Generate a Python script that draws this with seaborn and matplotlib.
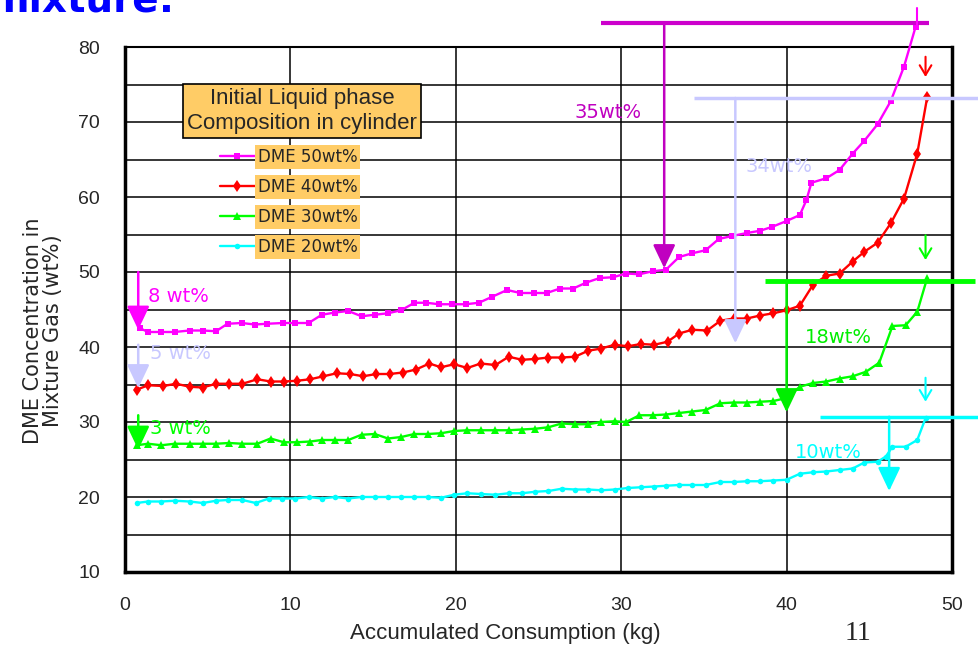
import matplotlib
matplotlib.use("Agg")
import matplotlib.pyplot as plt
import seaborn as sns

# ---- data ----
x_50 = [0.9, 1.4, 2.2, 3.0, 3.9, 4.7, 5.5, 6.2, 7.05, 7.85, 8.6, 9.55, 10.3, 11.1, 11.9, 12.7,
        13.5, 14.3, 15.1, 15.9, 16.7, 17.5, 18.2, 19.0, 19.8, 20.6, 21.4, 22.2, 23.1, 23.9, 24.7,
        25.5, 26.3, 27.1, 27.9, 28.7, 29.5, 30.3, 31.1, 31.9, 32.7, 33.5, 34.3, 35.1, 35.9, 36.7,
        37.6, 38.4, 39.1, 40.0, 40.8, 41.2, 41.5, 42.4, 43.2, 44.0, 44.7, 45.5, 46.3, 47.1, 47.8]
y_50 = [42.5, 42.0, 42.0, 42.0, 42.2, 42.2, 42.1, 43.1, 43.2, 43.0, 43.1, 43.2, 43.2, 43.2, 44.3, 44.6,
        44.8, 44.1, 44.3, 44.5, 44.9, 45.9, 45.9, 45.7, 45.7, 45.7, 45.9, 46.7, 47.6, 47.2, 47.2,
        47.2, 47.8, 47.8, 48.6, 49.2, 49.3, 49.8, 49.7, 50.1, 50.3, 52.0, 52.5, 52.9, 54.4, 54.8,
        55.2, 55.5, 56.0, 56.8, 57.6, 59.6, 61.9, 62.5, 63.6, 65.8, 67.5, 69.7, 72.8, 77.4, 82.7]

x_40 = [0.7, 1.4, 2.3, 3.1, 3.9, 4.7, 5.5, 6.3, 7.1, 8.0, 8.8, 9.6, 10.4, 11.2, 12.0, 12.8,
        13.6, 14.4, 15.2, 16.0, 16.8, 17.6, 18.4, 19.1, 19.9, 20.7, 21.5, 22.4, 23.2, 24.0, 24.8,
        25.6, 26.4, 27.2, 28.0, 28.8, 29.6, 30.4, 31.2, 32.0, 32.8, 33.5, 34.3, 35.2, 36.0, 36.8,
        37.6, 38.4, 39.2, 40.0, 40.8, 41.6, 42.4, 43.2, 44.0, 44.7, 45.5, 46.3, 47.1, 47.9, 48.5]
y_40 = [34.3, 34.9, 34.8, 35.1, 34.7, 34.6, 35.1, 35.1, 35.1, 35.7, 35.4, 35.4, 35.5, 35.7, 36.1, 36.5,
        36.4, 36.1, 36.4, 36.4, 36.6, 37.0, 37.8, 37.3, 37.7, 37.2, 37.8, 37.6, 38.7, 38.3, 38.4,
        38.6, 38.6, 38.7, 39.5, 39.8, 40.3, 40.1, 40.4, 40.3, 40.7, 41.8, 42.3, 42.2, 43.5, 43.8,
        43.8, 44.2, 44.5, 44.9, 45.5, 48.3, 49.5, 49.8, 51.4, 52.7, 53.9, 56.5, 59.8, 65.8, 73.3]

x_30 = [0.7, 1.4, 2.2, 3.0, 3.9, 4.7, 5.5, 6.3, 7.1, 8.0, 8.8, 9.6, 10.4, 11.2, 11.9, 12.7,
        13.5, 14.3, 15.1, 15.9, 16.7, 17.5, 18.3, 19.1, 19.9, 20.7, 21.5, 22.4, 23.2, 24.0, 24.8,
        25.6, 26.4, 27.2, 28.0, 28.8, 29.6, 30.3, 31.1, 31.9, 32.7, 33.5, 34.3, 35.1, 36.0, 36.8,
        37.6, 38.4, 39.2, 40.0, 40.8, 41.6, 42.4, 43.2, 44.0, 44.8, 45.6, 46.4, 47.2, 47.9, 48.5]
y_30 = [26.9, 27.1, 26.9, 27.1, 27.1, 27.1, 27.1, 27.2, 27.1, 27.1, 27.8, 27.3, 27.3, 27.4, 27.6, 27.6,
        27.6, 28.3, 28.4, 27.8, 28.0, 28.4, 28.4, 28.5, 28.8, 28.9, 28.9, 28.9, 28.9, 29.0, 29.1,
        29.3, 29.8, 29.7, 29.7, 30.0, 30.1, 30.0, 30.9, 30.9, 31.0, 31.2, 31.4, 31.6, 32.5, 32.6,
        32.6, 32.7, 32.8, 33.2, 34.7, 35.2, 35.4, 35.8, 36.1, 36.7, 37.9, 42.8, 42.9, 44.7, 49.2]

x_20 = [0.7, 1.4, 2.2, 3.0, 3.9, 4.7, 5.5, 6.2, 7.1, 7.9, 8.7, 9.5, 10.3, 11.1, 11.9, 12.7,
        13.5, 14.3, 15.1, 15.9, 16.7, 17.5, 18.3, 19.1, 19.9, 20.7, 21.5, 22.4, 23.2, 24.0, 24.8,
        25.6, 26.4, 27.2, 28.0, 28.8, 29.6, 30.4, 31.2, 32.0, 32.7, 33.5, 34.3, 35.1, 36.0, 36.8,
        37.6, 38.4, 39.2, 40.0, 40.8, 41.6, 42.4, 43.2, 44.0, 44.7, 45.5, 46.0, 46.4, 47.2, 47.9, 48.4]
y_20 = [19.2, 19.4, 19.4, 19.5, 19.4, 19.2, 19.5, 19.6, 19.6, 19.2, 19.8, 19.8, 19.8, 20.0, 19.8, 20.0,
        19.8, 20.0, 20.0, 20.0, 20.0, 20.0, 20.0, 19.9, 20.3, 20.5, 20.4, 20.3, 20.5, 20.5, 20.7,
        20.8, 21.1, 21.0, 21.0, 20.9, 21.0, 21.2, 21.3, 21.4, 21.5, 21.6, 21.6, 21.6, 22.0, 22.0,
        22.1, 22.1, 22.2, 22.3, 23.1, 23.3, 23.4, 23.6, 23.8, 24.6, 24.7, 25.4, 26.7, 26.7, 27.6, 30.5]

series_labels = ["DME 50wt%", "DME 40wt%", "DME 30wt%", "DME 20wt%"]
series_x = [x_50, x_40, x_30, x_20]
series_y = [y_50, y_40, y_30, y_20]

# drop annotations: label, x of arrow, start y, tip y, text x, text y
drop_labels = ["8 wt%", "5 wt%", "3 wt%", "35wt%", "34wt%", "18wt%", "10wt%"]
drop_x = [0.8, 0.8, 0.8, 32.6, 36.9, 40.0, 46.2]
drop_y0 = [50.0, 40.3, 30.9, 83.2, 73.2, 48.8, 30.7]
drop_y1 = [42.3, 34.5, 26.3, 50.5, 40.5, 31.3, 20.8]
drop_tx = [1.4, 1.5, 1.5, 27.2, 37.5, 41.1, 40.5]
drop_ty = [46.8, 39.1, 29.2, 71.3, 64.1, 41.3, 26.0]
# level bars on the right: x start, x end, y
bar_x0 = [28.8, 34.4, 38.7, 42.0]
bar_x1 = [48.6, 51.6, 51.4, 51.6]
bar_y = [83.2, 73.2, 48.8, 30.7]
# small end-point arrows
end_x = [48.4, 48.4, 48.4]
end_y0 = [78.7, 54.9, 35.9]
end_y1 = [76.0, 51.6, 32.7]

# ---- styles ----
line_colors = ["#FF00FF", "#FF0000", "#00FF00", "#00FFFF"]
line_markers = ["s", "d", "^", "o"]
marker_sizes = [4.5, 6, 5.5, 4]
drop_colors = ["#FF00FF", "#C8C8FF", "#00FF00", "#C000C0", "#C8C8FF", "#00EE00", "#00FFFF"]
bar_colors = ["#CC00CC", "#C8C8FF", "#00FF00", "#00FFFF"]
bar_widths = [3, 2.5, 3.5, 2.5]
end_colors = ["#FF0000", "#00FF00", "#00FFFF"]
orange = "#FFCC66"
narrow = ["Liberation Sans Narrow", "Liberation Sans"]

sns.set_style("white")
plt.rcParams["font.family"] = ["DejaVu Sans"]

fig = plt.figure(figsize=(9.79, 6.49), dpi=100)
ax = fig.add_axes([125 / 979, 1 - 572 / 649, (952 - 125) / 979, (572 - 47) / 649])

for xs, ys, lab, c, m, ms in zip(series_x, series_y, series_labels, line_colors, line_markers, marker_sizes):
    sns.lineplot(x=xs, y=ys, ax=ax, color=c, marker=m, markersize=ms, markeredgewidth=0,
                 linewidth=1.7, label=lab, sort=False, estimator=None, clip_on=False, zorder=4)

ax.set_xlim(0, 50)
ax.set_ylim(10, 80)
ax.set_xticks(range(0, 51, 10))
ax.set_yticks(range(10, 81, 10))
ax.set_yticks(range(15, 80, 10), minor=True)
ax.grid(True, which="major", axis="both", color="black", linewidth=1.1)
ax.grid(True, which="minor", axis="y", color="black", linewidth=1.1)
ax.tick_params(axis="both", which="major", direction="in", length=5, width=2,
               labelsize=14, pad=18)
ax.tick_params(axis="y", which="minor", direction="in", length=5, width=2)
for t in ax.get_xticklabels() + ax.get_yticklabels():
    t.set_family(narrow)
for side, lw in [("left", 2.5), ("bottom", 2.5), ("right", 2.5), ("top", 1.5)]:
    ax.spines[side].set_visible(True)
    ax.spines[side].set_color("black")
    ax.spines[side].set_linewidth(lw)

ax.set_xlabel("Accumulated Consumption (kg)", fontsize=16, family=narrow)
ax.xaxis.set_label_coords(0.46, -0.097)
ax.set_ylabel("DME Concentration in\nMixture Gas (wt%)", fontsize=15, linespacing=1.0)
ax.yaxis.set_label_coords(-0.075, 0.46)

# drop arrows with labels
for lab, x, y0, y1, tx, ty, c in zip(drop_labels, drop_x, drop_y0, drop_y1, drop_tx, drop_ty, drop_colors):
    ax.annotate("", xy=(x, y1), xytext=(x, y0), annotation_clip=False,
                arrowprops=dict(arrowstyle="-|>,head_length=0.8,head_width=0.38", color=c,
                                lw=1.8, mutation_scale=18, shrinkA=0, shrinkB=0), zorder=5)
    ax.text(tx, ty, lab, color=c, fontsize=14, ha="left", va="center", zorder=5)

for x0, x1, y, c, lw in zip(bar_x0, bar_x1, bar_y, bar_colors, bar_widths):
    ax.plot([x0, x1], [y, y], color=c, linewidth=lw, clip_on=False, solid_capstyle="butt", zorder=5)

for x, y0, y1, c in zip(end_x, end_y0, end_y1, end_colors):
    ax.annotate("", xy=(x, y1), xytext=(x, y0), annotation_clip=False,
                arrowprops=dict(arrowstyle="->,head_length=0.5,head_width=0.3", color=c,
                                lw=1.5, mutation_scale=14, shrinkA=0, shrinkB=0), zorder=5)
ax.plot([47.9, 47.9], [82.9, 85.2], color="#FF00FF", linewidth=1.5, clip_on=False, zorder=5)

# legend: title box + entries on orange patches
fig.text(302 / 979, 1 - 111 / 649, "Initial Liquid phase\nComposition in cylinder",
         ha="center", va="center", fontsize=16, linespacing=1.25, family=narrow,
         bbox=dict(boxstyle="square,pad=0.2", facecolor=orange, edgecolor="black", linewidth=1.2))
leg = ax.legend(loc="upper left", bbox_to_anchor=(220 / 979, 1 - 148 / 649),
                bbox_transform=fig.transFigure, frameon=False, fontsize=12,
                handlelength=2.1, handletextpad=0.15, labelspacing=0.72,
                borderpad=0, borderaxespad=0)
for t in leg.get_texts():
    t.set_bbox(dict(facecolor=orange, edgecolor="none", pad=2))

# slide header remnant and page number
fig.text(-0.012, 1 - 12 / 649, "mixture:", color="#0000FF", fontsize=28,
         fontweight="bold", va="baseline", ha="left")
fig.text(858 / 979, 1 - 634 / 649, "11", fontsize=20, family="Liberation Serif",
         ha="center", va="center")

fig.savefig("out.png", dpi=100)
